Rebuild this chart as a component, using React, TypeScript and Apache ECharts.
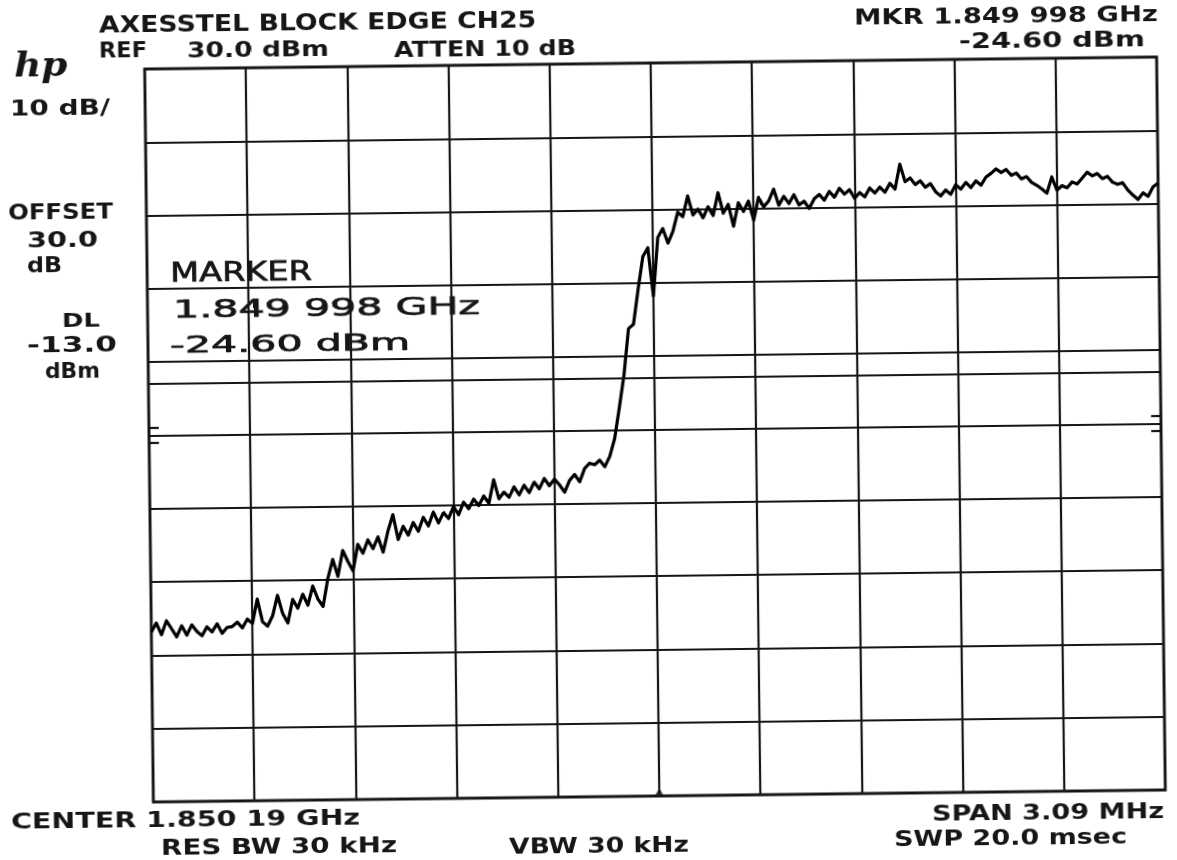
import React, { useEffect, useRef } from "react";
import * as echarts from "echarts";

// Analyzer settings
const SPAN_KHZ = 3090; // span 3.09 MHz, x axis is offset from start frequency in kHz
const REF_LEVEL = 30;
const BOTTOM_LEVEL = -70;
const DB_PER_DIV = 10;
const DISPLAY_LINE_DBM = -13;
const THRESHOLD_MARKS_DBM = [-19, -21];

// Swept trace, dBm, 201 evenly spaced points across the span
const TRACE_DBM = [
  -46.8, -45.6, -47.2, -45.3, -46.4, -47.5, -46.0, -47.3, -45.9, -46.8,
  -47.4, -46.2, -46.9, -45.8, -47.1, -46.3, -46.2, -45.6, -46.4, -45.2,
  -45.8, -42.5, -45.6, -46.2, -44.8, -42.0, -44.5, -45.8, -42.6, -43.8,
  -41.9, -43.4, -40.8, -42.6, -43.6, -39.8, -37.2, -39.5, -36.0, -37.5,
  -38.8, -35.2, -36.4, -34.6, -35.8, -34.2, -36.3, -33.4, -31.2, -34.6,
  -32.8, -34.0, -32.3, -33.5, -31.6, -32.8, -30.9, -32.4, -31.0, -31.8,
  -30.2, -31.3, -29.6, -30.5, -29.2, -30.1, -28.8, -29.8, -26.6, -29.2,
  -28.3, -29.0, -27.6, -28.7, -27.4, -28.4, -27.0, -27.9, -26.5, -27.5,
  -26.6, -27.4, -28.4, -26.8, -26.0, -27.0, -25.2, -24.5, -24.7, -24.1,
  -25.0, -23.6, -21.2, -17.0, -12.5, -6.2, -5.6, -0.8, 3.6, 4.8,
  -1.8, 6.2, 7.4, 5.4, 7.0, 9.6, 9.0, 11.8, 9.2, 10.0,
  8.8, 10.3, 9.1, 12.2, 9.4, 10.6, 7.6, 10.8, 9.6, 11.0,
  8.4, 11.5, 10.2, 11.0, 12.6, 10.4, 11.6, 10.6, 11.8, 10.4,
  10.9, 9.9, 11.2, 11.8, 11.0, 12.2, 11.4, 12.6, 11.8, 12.4,
  11.2, 12.0, 11.4, 12.6, 11.9, 12.7, 12.0, 13.2, 12.4, 15.8,
  13.4, 13.9, 13.0, 13.5, 12.6, 13.1, 12.0, 11.4, 12.2, 11.6,
  12.9, 12.3, 13.2, 12.5, 13.4, 12.8, 13.9, 14.4, 15.0, 14.5,
  14.9, 14.1, 14.4, 13.6, 13.9, 13.1, 12.7, 12.2, 11.6, 13.8,
  12.0, 12.6, 12.3, 13.1, 12.8, 13.6, 14.4, 13.9, 14.2, 13.5,
  13.8, 13.0, 12.7, 12.9, 11.9, 11.2, 10.6, 11.5, 11.0, 12.3,
  12.8,
];

// Annotation texts
const TITLE = "AXESSTEL BLOCK EDGE CH25";
const REF_LABEL = "REF";
const REF_VALUE = "30.0 dBm";
const ATTEN = "ATTEN 10 dB";
const MKR_FREQ = "MKR 1.849 998 GHz";
const MKR_LEVEL = "-24.60 dBm";
const SCALE = "10 dB/";
const OFFSET_LINES = ["OFFSET", "30.0", "dB"];
const DL_LINES = ["DL", "-13.0", "dBm"];
const MARKER_LINES = ["MARKER", "1.849 998 GHz", "-24.60 dBm"];
const CENTER = "CENTER 1.850 19 GHz";
const RES_BW = "RES BW 30 kHz";
const VBW = "VBW 30 kHz";
const SPAN = "SPAN 3.09 MHz";
const SWP = "SWP 20.0 msec";

const INK = "#161616";
const TILT_DEG = 0.68;
const PIVOT = [655, 430];

// Convert a point on the tilted sheet back into the chart's own frame
function unTilt(x: number, y: number): [number, number] {
  const t = (TILT_DEG * Math.PI) / 180;
  const dx = x - PIVOT[0];
  const dy = y - PIVOT[1];
  return [
    PIVOT[0] + dx * Math.cos(t) - dy * Math.sin(t),
    PIVOT[1] + dx * Math.sin(t) + dy * Math.cos(t),
  ];
}

let measureCtx: CanvasRenderingContext2D | null = null;
function measure(text: string, font: string): number {
  if (!measureCtx) measureCtx = document.createElement("canvas").getContext("2d");
  if (!measureCtx) return text.length * 10;
  measureCtx.font = font;
  return measureCtx.measureText(text).width;
}

// A text fitted to a box: left/right edges and cap top/bottom
function fitted(
  text: string,
  x0: number,
  x1: number,
  y0: number,
  y1: number,
  weight: string,
  strokeWidth = 0,
  family = "DejaVu Sans"
) {
  const fontSize = (y1 - y0) / 0.729;
  const w = measure(text, `${weight} ${fontSize}px "${family}"`);
  const [x, y] = unTilt(x0, (y0 + y1) / 2);
  return {
    type: "text",
    x,
    y,
    scaleX: (x1 - x0) / w,
    silent: true,
    style: {
      text,
      fontFamily: family,
      fontSize,
      fontWeight: weight,
      fill: INK,
      stroke: strokeWidth > 0 ? INK : "none",
      lineWidth: strokeWidth,
      align: "left",
      verticalAlign: "middle",
    },
  };
}

export default function App() {
  const ref = useRef<HTMLDivElement>(null);

  useEffect(() => {
    if (!ref.current) return;
    const chart = echarts.init(ref.current, undefined, { renderer: "svg" });
    const step = SPAN_KHZ / (TRACE_DBM.length - 1);
    const trace = TRACE_DBM.map((v, i) => [i * step, v]);
    const markWidth = 30;

    const B = "bold";
    const N = "normal";
    const texts: any[] = [
      fitted(TITLE, 99, 536, 16, 33, B),
      fitted(REF_LABEL, 99, 147, 42, 58, B),
      fitted(REF_VALUE, 187, 329, 42, 58, B),
      fitted(ATTEN, 394, 576, 42, 58, B),
      fitted(MKR_FREQ, 854, 1158, 9, 25, B),
      fitted(MKR_LEVEL, 959, 1145, 33, 49, B),
      fitted(SCALE, 10, 110, 100, 116, B),
      fitted(OFFSET_LINES[0], 8, 113, 205, 220, B),
      fitted(OFFSET_LINES[1], 27, 98, 233, 248, B),
      fitted(OFFSET_LINES[2], 27, 62, 258, 273, B),
      fitted(DL_LINES[0], 62, 100, 313, 327, B),
      fitted(DL_LINES[1], 27, 117, 337, 353, B),
      fitted(DL_LINES[2], 45, 100, 363, 378, B),
      fitted(MARKER_LINES[0], 170, 312, 263, 282, N, 0.7),
      fitted(MARKER_LINES[1], 173, 480, 300, 318, N, 0.7),
      fitted(MARKER_LINES[2], 170, 410, 336, 353, N, 0.7),
      fitted(CENTER, 11, 360, 813, 829, B),
      fitted(RES_BW, 161, 397, 839, 855, B),
      fitted(VBW, 509, 689, 838, 854, B),
      fitted(SPAN, 932, 1164, 806, 821, B),
      fitted(SWP, 894, 1127, 831, 847, B),
    ];
    const [hx, hy] = unTilt(14, 64);
    texts.push({
      type: "text",
      x: hx,
      y: hy,
      scaleX: 1.1,
      silent: true,
      style: {
        text: "hp",
        fontFamily: "DejaVu Serif",
        fontStyle: "italic",
        fontSize: 34,
        fontWeight: "bold",
        fill: INK,
        align: "left",
        verticalAlign: "middle",
      },
    });

    const splitStyle = { show: true, lineStyle: { color: INK, width: 2.2 } };
    const thresholdMarks: any[] = [];
    THRESHOLD_MARKS_DBM.forEach((lvl) => {
      thresholdMarks.push([{ coord: [0, lvl] }, { coord: [markWidth, lvl] }]);
      thresholdMarks.push([{ coord: [SPAN_KHZ - markWidth, lvl] }, { coord: [SPAN_KHZ, lvl] }]);
    });

    chart.setOption({
      animation: false,
      backgroundColor: "#ffffff",
      grid: {
        left: 149,
        right: 16,
        top: 63,
        bottom: 64,
        show: true,
        borderColor: INK,
        borderWidth: 2.8,
        backgroundColor: "transparent",
      },
      xAxis: {
        type: "value",
        min: 0,
        max: SPAN_KHZ,
        interval: SPAN_KHZ / 10,
        axisLabel: { show: false },
        axisTick: { show: false },
        axisLine: { show: false },
        splitLine: splitStyle,
      },
      yAxis: {
        type: "value",
        min: BOTTOM_LEVEL,
        max: REF_LEVEL,
        interval: DB_PER_DIV,
        axisLabel: { show: false },
        axisTick: { show: false },
        axisLine: { show: false },
        splitLine: splitStyle,
      },
      series: [
        {
          type: "line",
          data: trace,
          symbol: "none",
          showSymbol: false,
          lineStyle: { color: "#000", width: 3.2, join: "round" },
          z: 3,
          markLine: {
            silent: true,
            symbol: ["none", "none"],
            label: { show: false },
            lineStyle: { color: INK, width: 2.2, type: "solid" },
            data: [{ yAxis: DISPLAY_LINE_DBM }, ...thresholdMarks],
          },
        },
        {
          type: "scatter",
          data: [[SPAN_KHZ / 2, BOTTOM_LEVEL]],
          symbol: "triangle",
          symbolSize: [9, 8],
          symbolOffset: [0, -4],
          itemStyle: { color: INK },
          silent: true,
          z: 4,
        },
      ],
      graphic: texts,
    });

    return () => chart.dispose();
  }, []);

  return (
    <div
      style={{
        position: "fixed",
        left: 0,
        top: 0,
        width: 1177,
        height: 860,
        background: "#fff",
        transform: `rotate(-${TILT_DEG}deg)`,
        transformOrigin: `${PIVOT[0]}px ${PIVOT[1]}px`,
      }}
    >
      <div ref={ref} style={{ width: 1177, height: 860 }} />
    </div>
  );
}
